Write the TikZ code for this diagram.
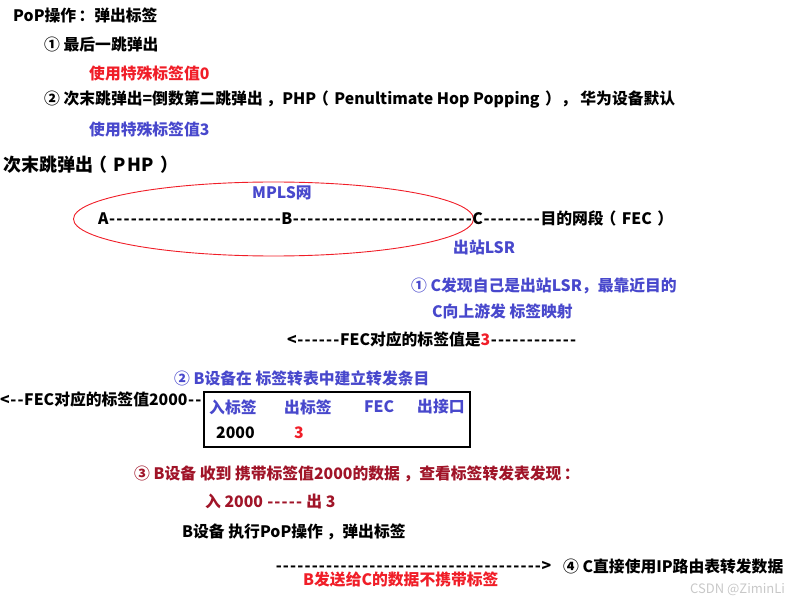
\documentclass[tikz,border=0pt]{standalone}
\usepackage{fontspec}
\setmainfont{Noto Sans CJK SC}
\definecolor{tblueC}{RGB}{72,72,204}
\definecolor{tredC}{RGB}{240,30,40}
\definecolor{tdredC}{RGB}{160,20,40}
\definecolor{wmC}{RGB}{200,200,200}
\newcommand\hy{\makebox[7.2pt]{-}}
\newcount\dashcnt
\newcommand\dashrun[1]{\dashcnt=#1\relax\loop\ifnum\dashcnt>0 \hy\advance\dashcnt by -1 \repeat}
\newcommand\lpar{\hspace{-0.2em}（\hspace{0.35em}}
\newcommand\rpar{\hspace{0.35em}）}
\tikzset{
  txt/.style={anchor=west,inner sep=0pt,font=\bfseries\fontsize{15.8}{18}\selectfont},
  big/.style={anchor=west,inner sep=0pt,font=\bfseries\fontsize{18}{21}\selectfont},
  tblue/.style={txt,text=tblueC},
  tred/.style={txt,text=tredC},
  tdred/.style={txt,text=tdredC},
}
\begin{document}
\begin{tikzpicture}[x=1pt,y=-1pt]
\useasboundingbox (0,0) rectangle (807,604);
\node[txt] (t1) at (13,15) {PoP操作\hspace{0.15em}：弹出标签};
\node[txt] (t2) at (44,44) {① 最后一跳弹出};
\node[tred] (t3) at (89,73) {使用特殊标签值0};
\node[txt] (t4) at (44,100) {② 次末跳弹出=倒数第二跳弹出 ，PHP\lpar Penultimate Hop Popping\rpar， 华为设备默认};
\node[tblue] (t5) at (89,129) {使用特殊标签值3};
\node[big] (title) at (3,165) {次末跳弹出\lpar P\hspace{0.05em}H\hspace{0.05em}P\rpar};
\node[tblue] (mpls) at (252,193) {MPLS网};
\draw[tredC,line width=0.9pt] (273.5,219) ellipse [x radius=200, y radius=37];
\node[txt] (line) at (98,218) {A\dashrun{24}B\dashrun{25}C\dashrun{8}目的网段\lpar FEC\rpar};
\node[tblue] (lsr) at (453,247) {出站LSR};
\node[tblue] (s1a) at (411,286) {① C发现自己是出站LSR，最靠近目的};
\node[tblue] (s1b) at (432,311) {C向上游发 标签映射};
\node[txt] (m1) at (287,339) {<\dashrun{6}FEC对应的标签值是\textcolor{tredC}{3}\dashrun{12}};
\node[tblue] (s2) at (174,378) {② B设备在 标签转表中建立转发条目};
\node[txt] (m2) at (0,399) {<\dashrun{2}FEC对应的标签值2000\dashrun{2}};
\draw[line width=1.4pt] (204,392) rectangle (470,447);
\node[tblue] (h1) at (209,407) {入标签};
\node[tblue] (h2) at (284,407) {出标签};
\node[tblue] (h3) at (364,407) {FEC};
\node[tblue] (h4) at (417,407) {出接口};
\node[txt] (r1) at (216,433) {2000};
\node[tred] (r2) at (294,433) {3};
\node[tdred] (s3) at (134,474) {③ B设备 收到 携带标签值2000的数据 ，查看标签转发表发现\hspace{0.15em}：};
\node[tdred] (s3b) at (205,501) {入 2000 \dashrun{5} 出 3};
\node[txt] (pop) at (182,532) {B设备 执行PoP操作 ，弹出标签};
\node[txt] (arr) at (275,566) {\dashrun{37}>};
\node[txt] (s4) at (563,566) {④ C直接使用IP路由表转发数据};
\node[tred] (nolab) at (303,580) {B发送给C的数据不携带标签};
\node[anchor=west,inner sep=0pt,text=wmC,font=\fontsize{13}{15}\selectfont] (wm) at (690,590) {CSDN @ZiminLi};
\end{tikzpicture}
\end{document}
